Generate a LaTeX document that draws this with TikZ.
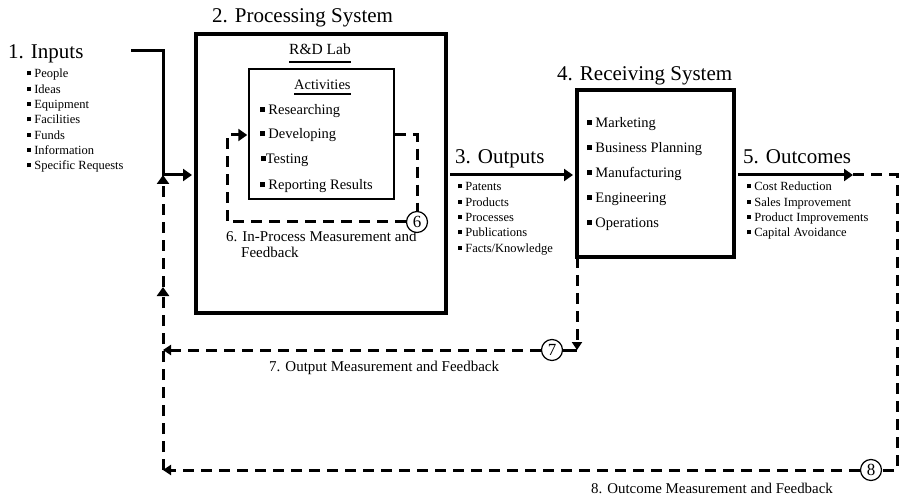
\documentclass[tikz,border=0pt]{standalone}
\usepackage{fontspec}
\setmainfont{Liberation Serif}
\usetikzlibrary{arrows.meta,calc}
\newcommand\blt{\rule[0.2em]{0.32em}{0.32em}}
\begin{document}
\begin{tikzpicture}[x=1pt,y=-1pt,
  title/.style={font=\fontsize{21}{25}\selectfont, inner sep=0, anchor=base west},
  small/.style={font=\fontsize{12.5}{15}\selectfont, inner sep=0, anchor=base west},
  item/.style={font=\fontsize{14.5}{17}\selectfont, inner sep=0, anchor=base west},
  lbl/.style={font=\fontsize{15}{18}\selectfont, inner sep=0, anchor=base west},
  bigbox/.style={draw, line width=4pt, inner sep=0, line join=miter},
  thinbox/.style={draw, line width=1.5pt, inner sep=0},
  numc/.style={draw, circle, line width=1.2pt, minimum size=21pt, inner sep=0, fill=white,
    font=\fontsize{17}{18}\selectfont},
  flow/.style={line width=3pt, line join=miter},
  fb/.style={line width=3pt, dash pattern=on 11pt off 7pt, line join=miter},
  tip/.style={-{Triangle[length=9pt,width=12pt]}},
  ftip/.style={-{Triangle[length=8pt,width=10pt]}}
]
\useasboundingbox (0,0) rectangle (900,497);
\fill[white] (0,0) rectangle (900,497);

% ---- boxes ----
\node[bigbox, minimum width=250pt, minimum height=279pt] (proc) at (321,173.5) {};
\node[thinbox, minimum width=145pt, minimum height=130pt] (acts) at (321.5,134) {};
\node[bigbox, minimum width=157pt, minimum height=167pt] (recv) at (655.5,173.5) {};

% ---- headings ----
\node[title] (tin)  at (8,59)    {1. Inputs};
\node[title] (tproc) at (212,23) {2. Processing System};
\node[title] (tout) at (455,164) {3. Outputs};
\node[title] (trecv) at (557,81) {4. Receiving System};
\node[title] (toc)  at (743,164) {5. Outcomes};

% ---- inputs list ----
\node[small] (i1) at (27,78)    {\blt\ People};
\node[small] (i2) at (27,93.3)  {\blt\ Ideas};
\node[small] (i3) at (27,108.6) {\blt\ Equipment};
\node[small] (i4) at (27,123.9) {\blt\ Facilities};
\node[small] (i5) at (27,139.2) {\blt\ Funds};
\node[small] (i6) at (27,154.5) {\blt\ Information};
\node[small] (i7) at (27,169.8) {\blt\ Specific Requests};

% ---- R&D lab ----
\node[font=\fontsize{15.5}{18}\selectfont, inner sep=0, anchor=base west] (rd) at (289,55) {R\&D Lab};
\draw[line width=2pt] ($(rd.base west)+(0,7)$) -- ($(rd.base east)+(0,7)$);
\node[item] (acth) at (294,90) {Activities};
\draw[line width=1.3pt] ($(acth.base west)+(0,4)$) -- ($(acth.base east)+(0,4)$);
\node[item] (a1) at (260,115) {\blt\ Researching};
\node[item] (a2) at (260,139) {\blt\ Developing};
\node[item] (a3) at (261,164) {\blt Testing};
\node[item] (a4) at (260,190) {\blt\ Reporting Results};

% ---- outputs list ----
\node[small] (o1) at (458,191)   {\blt\ Patents};
\node[small] (o2) at (458,206.3) {\blt\ Products};
\node[small] (o3) at (458,221.6) {\blt\ Processes};
\node[small] (o4) at (458,236.9) {\blt\ Publications};
\node[small] (o5) at (458,252.2) {\blt\ Facts/Knowledge};

% ---- receiving system list ----
\node[item] (r1) at (587,128) {\blt\ Marketing};
\node[item] (r2) at (587,153) {\blt\ Business Planning};
\node[item] (r3) at (587,178) {\blt\ Manufacturing};
\node[item] (r4) at (587,203) {\blt\ Engineering};
\node[item] (r5) at (587,228) {\blt\ Operations};

% ---- outcomes list ----
\node[small] (u1) at (747,191)   {\blt\ Cost Reduction};
\node[small] (u2) at (747,206.3) {\blt\ Sales Improvement};
\node[small] (u3) at (747,221.6) {\blt\ Product Improvements};
\node[small] (u4) at (747,236.9) {\blt\ Capital Avoidance};

% ---- feedback labels ----
\node[lbl] (l6a) at (226,242) {6. In-Process Measurement and};
\node[lbl] (l6b) at (241,258) {Feedback};
\node[lbl] (l7)  at (269,371) {7. Output Measurement and Feedback};
\node[font=\fontsize{14.9}{18}\selectfont, inner sep=0, anchor=base west] (l8) at (591,493) {8. Outcome Measurement and Feedback};

% ---- key points ----
\coordinate (inS) at (131,51);
\coordinate (inK) at (163,51);
\coordinate (jn)  at (163,175);
\coordinate (ocE) at (853,175);
\coordinate (p6a) at (417,135);
\coordinate (p6b) at (227,222);
\coordinate (p6c) at (227,135);
\coordinate (p7a) at (577,350);
\coordinate (p7b) at (163,350);
\coordinate (p8a) at (897,175);
\coordinate (p8b) at (897,470);
\coordinate (p8c) at (163,470);
\coordinate (up8) at (163,287);

% ---- feedback circles ----
\node[numc] (c6) at (417,222) {6};
\node[numc] (c7) at (552,350) {7};
\node[numc] (c8) at (871,470) {8};

% ---- main flow ----
\draw[flow, tip] (inS) -- (inK) -- (jn) -- ([xshift=-2pt]proc.west |- jn);
\draw[flow, tip] ([xshift=2pt]proc.east |- jn) -- ([xshift=-2pt]recv.west |- jn);
\draw[flow, tip] ([xshift=2pt]recv.east |- jn) -- (ocE);

% ---- loop 6: in-process feedback ----
\draw[fb] (acts.east |- p6a) -- (p6a) -- (c6.north);
\draw[fb, tip] (c6.west) -- (p6b) -- (p6c) -- ([xshift=-1pt]acts.west |- p6c);

% ---- loop 7: output feedback ----
\draw[fb, ftip] ([yshift=2pt]recv.south -| p7a) -- (p7a);
\draw[line width=3pt] (p7a) -- (c7.east);
\draw[fb, ftip] (c7.west) -- (p7b);

% ---- loop 8: outcome feedback ----
\draw[fb] (ocE) -- (p8a) -- (p8b) -- (c8.east);
\draw[fb, ftip] (c8.west) -- (p8c);
\draw[fb, tip] (p8c) -- (up8);
\draw[fb, tip] (up8) -- (jn);
\end{tikzpicture}
\end{document}
